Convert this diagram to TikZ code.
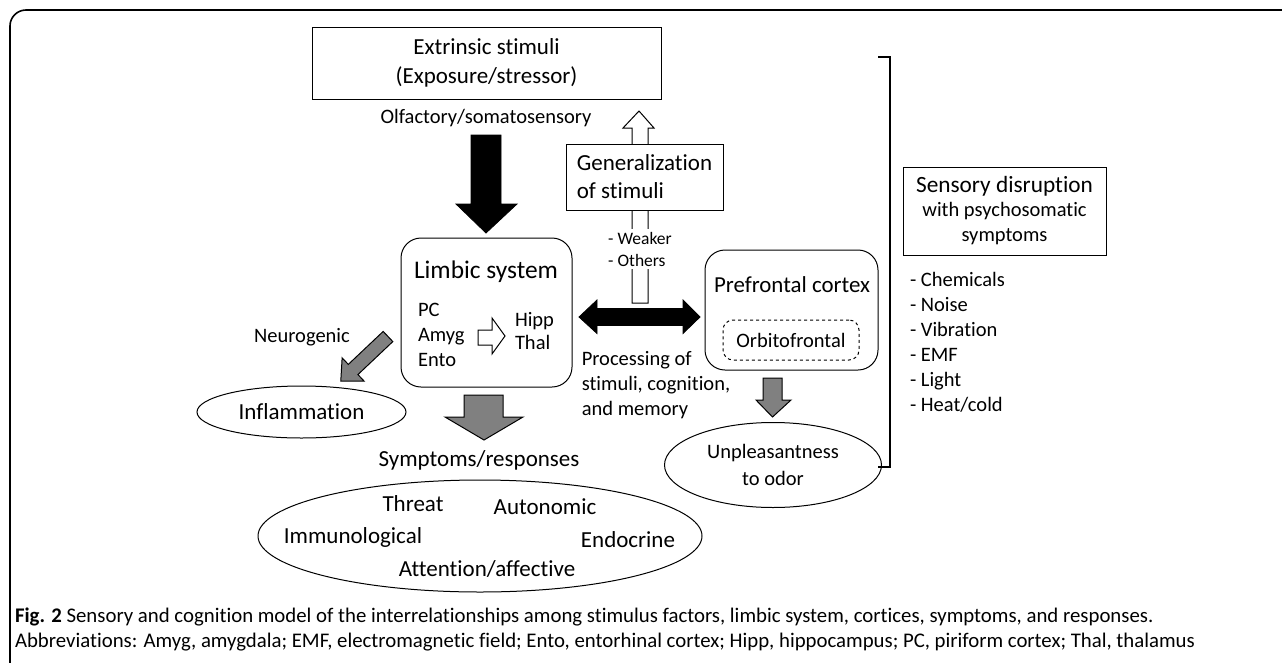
\documentclass[tikz,border=0pt]{standalone}
\usepackage{fontspec}
\setmainfont{Carlito}[Ligatures=NoCommon]
\usetikzlibrary{calc,shapes.geometric}
\newcommand\fsz[2]{\fontsize{#1}{#2}\selectfont}
\begin{document}
\begin{tikzpicture}[x=1pt,y=-1pt,
  every node/.style={inner sep=0pt, outer sep=0pt, font=\fsz{20.5}{25}},
  sqbox/.style={draw, line width=1pt, align=center},
  rbox/.style={draw, line width=1pt, rounded corners=20pt},
  blackarr/.style={fill=black, draw=black, line width=0.8pt},
  greyarr/.style={fill=black!50, draw=black, line width=1pt},
  whitearr/.style={fill=white, draw=black, line width=1pt},
  lbl/.style={align=left}
]
\useasboundingbox (0,0) rectangle (1282,662);
\clip (0,0) rectangle (1282,662);
% outer frame
\draw[line width=1.6pt, rounded corners=16pt] (10,700) -- (10,10) -- (1320,10);

% white arrow generalization -> extrinsic (drawn first, behind box and label)
\coordinate (wt) at (639,111);
\draw[whitearr] (632,303) -- (632,128) -- (623,128) -- (wt) -- (654,128) -- (648,128) -- (648,303) -- cycle;

% nodes
\node[sqbox, minimum width=349pt, minimum height=72pt, font=\fsz{23}{29}] (ext) at (486.5,63) {Extrinsic stimuli\\(Exposure/stressor)};
\node (olf) at (486,118) {Olfactory/somatosensory};
\node[sqbox, fill=white, minimum width=157pt, minimum height=66pt, align=left, font=\fsz{23}{28}] (gen) at (644.5,177) {Generalization\\of stimuli};
\node[lbl, fill=white, font=\fsz{17.5}{22}, inner ysep=3pt] (weak) at (640,249) {- Weaker\\- Others};

\node[rbox, minimum width=171pt, minimum height=149pt] (limb) at (486.5,312.5) {};
\node[font=\fsz{25.4}{30}] (limbt) at (486,272) {Limbic system};
\node[lbl, anchor=west] (pc) at (418,335) {PC\\Amyg\\Ento};
\node[lbl, anchor=west, font=\fsz{20.5}{23}] (hipp) at (515,331.5) {Hipp\\Thal};
\draw[whitearr] (478,330) -- (492,330) -- (492,318) -- (505,336) -- (492,354) -- (492,345) -- (478,345) -- cycle;

\node[rbox, minimum width=173pt, minimum height=120pt] (pfc) at (791.5,310) {};
\node[font=\fsz{22.9}{28}] (pfct) at (792,285) {Prefrontal cortex};
\node[draw, dashed, line width=1pt, rounded corners=10pt, minimum width=136pt, minimum height=40pt] (orb) at (791,340) {Orbitofrontal};

% black arrows
\draw[blackarr] (471,135) -- (501,135) -- (501,204) -- (517,204) -- (486,233) -- (456,204) -- (471,204) -- cycle;
\draw[blackarr] (579,317) -- (597,300) -- (597,308.5) -- (683,308.5) -- (683,300) -- (700,317) -- (683,333.5) -- (683,325.5) -- (597,325.5) -- (597,333.5) -- cycle;

\node[lbl] (proc) at (656,385) {Processing of\\stimuli, cognition,\\and memory};
\node (neuro) at (302,337) {Neurogenic};

% grey arrows
\begin{scope}[shift={(388,336.5)}, rotate=223.4]
\draw[greyarr] (0pt,7pt) -- (48pt,7pt) -- (48pt,16pt) -- (65pt,0pt) -- (48pt,-16pt) -- (48pt,-7pt) -- (0pt,-7pt) -- cycle;
\end{scope}
\draw[greyarr] (464,395) -- (503,395) -- (503,417) -- (523,417) -- (484,440) -- (445,417) -- (464,417) -- cycle;
\draw[greyarr] (763,378) -- (782,378) -- (782,400) -- (791,400) -- (772.5,417) -- (756,400) -- (763,400) -- cycle;

\node[draw, line width=1pt, ellipse, minimum width=209pt, minimum height=52pt, font=\fsz{23}{28}] (infl) at (301.5,412) {Inflammation};
\node[font=\fsz{23}{28}] (symp) at (479,460) {Symptoms/responses};
\node[draw, line width=1pt, ellipse, minimum width=444pt, minimum height=112pt] (resp) at (480,536) {};
\node[font=\fsz{23}{28}] (thr) at (413,504) {Threat};
\node[font=\fsz{23}{28}] (aut) at (545,507) {Autonomic};
\node[font=\fsz{23}{28}] (imm) at (353,537) {Immunological};
\node[font=\fsz{23}{28}] (endo) at (628,540) {Endocrine};
\node[font=\fsz{23}{28}] (att) at (487,569) {Attention/affective};

\node[draw, line width=1pt, ellipse, minimum width=217pt, minimum height=85pt, align=center, font=\fsz{20.5}{27}] (unp) at (773,465) {Unpleasantness\\to odor};

% bracket
\draw[line width=1.2pt] (878,57) -- (890,57) -- (890,467) -- (878,467);

\node[sqbox, minimum width=203pt, minimum height=88pt] (sens) at (1004.5,211) {{\fsz{23.3}{26}Sensory disruption}\\[-1pt]with psychosomatic\\symptoms};
\node[lbl, anchor=west] (list) at (910,342.5) {- Chemicals\\- Noise\\- Vibration\\- EMF\\- Light\\- Heat/cold};

% caption
\node[anchor=base west, align=left, font=\fsz{20.8}{25}] (cap) at (15,647) {\textbf{Fig. 2} Sensory and cognition model of the interrelationships among stimulus factors, limbic system, cortices, symptoms, and responses.\\Abbreviations: Amyg, amygdala; EMF, electromagnetic field; Ento, entorhinal cortex; Hipp, hippocampus; PC, piriform cortex; Thal, thalamus};
\end{tikzpicture}
\end{document}
